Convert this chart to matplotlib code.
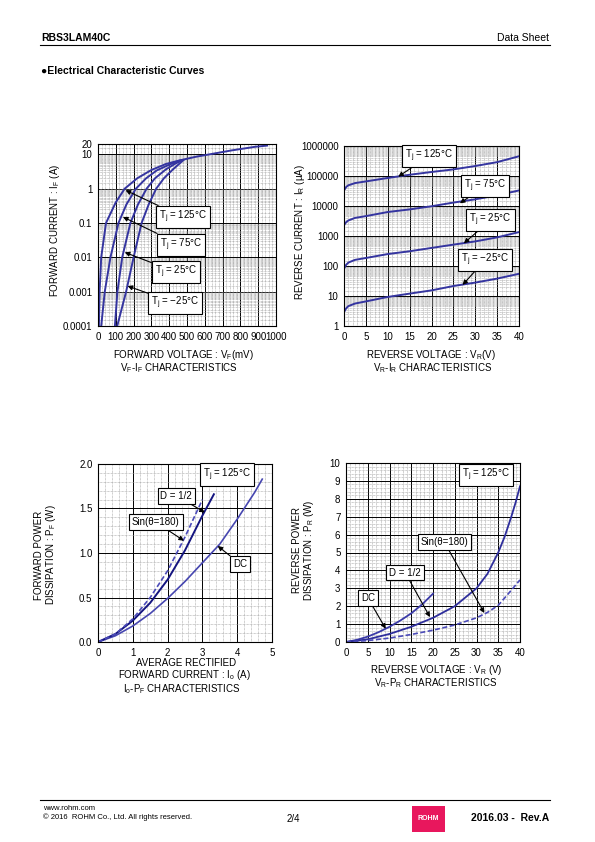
import numpy as np
import matplotlib
matplotlib.use('Agg')
from matplotlib import pyplot as plt
from matplotlib.ticker import MultipleLocator, LogLocator, NullFormatter, FixedLocator
from matplotlib.patches import Rectangle

plt.rcParams['font.family'] = ['Liberation Sans', 'DejaVu Sans']
plt.rcParams['mathtext.default'] = 'regular'

# VF-IF (mV, A)
vf_125 = [5, 9, 18, 45, 100, 150, 220, 300, 380, 450, 550, 650, 750, 880, 950]
if_125 = [1e-4, 1e-3, 1e-2, 0.1, 0.4, 1, 2.0, 3.5, 5.2, 6.5, 8.5, 10.5, 13, 16.5, 18]
vf_75 = [18, 38, 70, 115, 160, 213, 270, 330, 400, 460]
if_75 = [1e-4, 1e-3, 1e-2, 0.1, 0.35, 1, 2.0, 3.4, 5.0, 6.6]
vf_25 = [95, 109, 136, 182, 225, 273, 320, 380, 430, 470]
if_25 = [1e-4, 1e-3, 1e-2, 0.1, 0.35, 1, 2.0, 3.6, 5.2, 6.7]
vf_m25 = [108, 158, 200, 245, 285, 327, 370, 420, 460, 480]
if_m25 = [1e-4, 1e-3, 1e-2, 0.1, 0.35, 1, 2.0, 3.6, 5.5, 6.8]

# VR-IR (V, uA)
vr = [0, 0.5, 1, 2.5, 5, 10, 15, 20, 25, 30, 35, 40]
ir_125 = [33000, 43000, 49000, 58000, 66000, 86000, 110000, 136000, 166000, 215000, 290000, 455000]
ir_75 = [2300, 2900, 3300, 4000, 4600, 6300, 7700, 9800, 13000, 16700, 22700, 33000]
ir_25 = [81, 110, 130, 160, 185, 250, 310, 400, 515, 660, 900, 1350]
ir_m25 = [2.9, 3.9, 4.6, 5.6, 6.6, 9.3, 12, 15.4, 21.5, 28, 38, 55]

# Io-PF (A, W)
io_dc = [0, 0.5, 1, 1.5, 2, 2.5, 3, 3.5, 4, 4.5, 4.72]
pf_dc = [0, 0.07, 0.18, 0.32, 0.49, 0.68, 0.89, 1.1, 1.38, 1.68, 1.83]
io_half = [0, 0.5, 1, 1.5, 2, 2.5, 3, 3.33]
pf_half = [0, 0.09, 0.24, 0.44, 0.7, 1.03, 1.42, 1.66]
io_sin = [0, 0.5, 1, 1.5, 2, 2.5, 3]
pf_sin = [0, 0.09, 0.26, 0.5, 0.8, 1.18, 1.6]

# VR-PR (V, W)
vr_dc = [0, 2.5, 5, 7.5, 10, 12.5, 15, 17.5, 20]
pr_dc = [0, 0.12, 0.3, 0.55, 0.85, 1.2, 1.6, 2.1, 2.7]
vr_half = [0, 5, 10, 15, 20, 25, 30, 32.5, 35, 36.5, 38, 39, 40]
pr_half = [0, 0.15, 0.45, 0.85, 1.35, 2.0, 3.0, 3.8, 5.0, 5.9, 7.0, 7.8, 8.7]
vr_sin = [0, 5, 10, 15, 20, 25, 30, 32.5, 35, 37.5, 40]
pr_sin = [0, 0.08, 0.22, 0.42, 0.66, 0.95, 1.35, 1.65, 2.05, 2.75, 3.47]

W, H = 595, 842
fig = plt.figure(figsize=(5.95, 8.42), dpi=100)


def box(l, t, r, b):
    return [l / W, 1 - b / H, (r - l) / W, (b - t) / H]


def ftext(x, y, s, **kw):
    kw.setdefault('fontsize', 7)
    kw.setdefault('ha', 'center')
    kw.setdefault('va', 'center')
    fig.text(x / W, 1 - y / H, s, **kw)


def style(ax):
    ax.grid(True, which='minor', color='#a0a0a0', lw=0.5, ls=(0, (1, 1)))
    ax.grid(True, which='major', color='black', lw=0.7)
    ax.set_axisbelow(True)
    ax.tick_params(which='both', length=0, labelsize=7, pad=4)
    for s in ax.spines.values():
        s.set_linewidth(0.8)


def label(ax, txt, tip, pos, arrow=True):
    bb = dict(boxstyle='square,pad=0.3', fc='white', ec='black', lw=0.8)
    if arrow:
        ax.annotate(txt, xy=tip, xytext=pos, fontsize=7, ha='center', va='center', bbox=bb,
                    arrowprops=dict(arrowstyle='-|>', color='black', lw=0.8,
                                    mutation_scale=7, shrinkA=0, shrinkB=0))
    else:
        ax.text(pos[0], pos[1], txt, fontsize=7, ha='center', va='center', bbox=bb)


line_c = '#3535a0'

# ---- VF-IF
ax1 = fig.add_axes(box(98, 144, 276, 326))
for v, i in [(vf_125, if_125), (vf_75, if_75), (vf_25, if_25), (vf_m25, if_m25)]:
    ax1.plot(v, i, color=line_c, lw=1.4)
ax1.set_yscale('log')
ax1.set_xlim(0, 1000)
ax1.set_ylim(1e-4, 20)
ax1.xaxis.set_major_locator(MultipleLocator(100))
ax1.xaxis.set_minor_locator(MultipleLocator(20))
ax1.yaxis.set_major_locator(FixedLocator([1e-4, 1e-3, 1e-2, 0.1, 1, 10, 20]))
ax1.set_yticklabels(['0.0001', '0.001', '0.01', '0.1', '1', '10', '20'])
ax1.yaxis.set_minor_locator(LogLocator(base=10, subs=np.arange(1.5, 10, 0.5), numticks=30))
ax1.yaxis.set_minor_formatter(NullFormatter())
style(ax1)
label(ax1, 'T$_j$ = 125°C', (155, 0.9), (476, 0.149))
label(ax1, 'T$_j$ = 75°C', (140, 0.15), (466, 0.0229))
label(ax1, 'T$_j$ = 25°C', (150, 0.014), (438, 0.00373))
label(ax1, 'T$_j$ = \u221225°C', (166, 0.00146), (435, 0.00047))

# ---- VR-IR
ax2 = fig.add_axes(box(344, 146, 519, 326))
for i in [ir_125, ir_75, ir_25, ir_m25]:
    ax2.plot(vr, i, color=line_c, lw=1.4)
ax2.set_yscale('log')
ax2.set_xlim(0, 40)
ax2.set_ylim(1, 1e6)
ax2.xaxis.set_major_locator(MultipleLocator(5))
ax2.xaxis.set_minor_locator(MultipleLocator(1))
ax2.yaxis.set_major_locator(FixedLocator([1, 10, 100, 1000, 1e4, 1e5, 1e6]))
ax2.set_yticklabels(['1', '10', '100', '1000', '10000', '100000', '1000000'])
ax2.yaxis.set_minor_locator(LogLocator(base=10, subs=np.arange(1.5, 10, 0.5), numticks=30))
ax2.yaxis.set_minor_formatter(NullFormatter())
style(ax2)
label(ax2, 'T$_j$ = 125°C', (12.4, 95000), (19.4, 4.6e5))
label(ax2, 'T$_j$ = 75°C', (26.5, 12300), (32.2, 46000))
label(ax2, 'T$_j$ = 25°C', (27.4, 570), (33.5, 3400))
label(ax2, 'T$_j$ = \u221225°C', (27.1, 23.4), (32.2, 155))

# ---- Io-PF
ax3 = fig.add_axes(box(98, 464, 272, 642))
ax3.plot(io_dc, pf_dc, color='#4646b0', lw=1.2)
ax3.plot(io_half, pf_half, color='#141480', lw=1.4)
ax3.plot(io_sin, pf_sin, color='#4a4ab8', lw=1.2, ls=(0, (3, 1.5)))
ax3.set_xlim(0, 5)
ax3.set_ylim(0, 2)
ax3.xaxis.set_major_locator(MultipleLocator(1))
ax3.xaxis.set_minor_locator(MultipleLocator(0.2))
ax3.yaxis.set_minor_locator(MultipleLocator(0.1))
ax3.set_yticks([0, 0.5, 1, 1.5, 2])
ax3.set_yticklabels(['0.0', '0.5', '1.0', '1.5', '2.0'])
style(ax3)
label(ax3, 'T$_j$ = 125°C', None, (3.71, 1.882), arrow=False)
label(ax3, 'D = 1/2', (3.07, 1.457), (2.25, 1.643))
label(ax3, 'Sin(θ=180)', (2.47, 1.138), (1.66, 1.346))
label(ax3, 'DC', (3.44, 1.079), (4.09, 0.876))

# ---- VR-PR
ax4 = fig.add_axes(box(346, 463, 520, 642))
ax4.plot(vr_dc, pr_dc, color='#3a3aa8', lw=1.3)
ax4.plot(vr_half, pr_half, color='#2e2e9c', lw=1.3)
ax4.plot(vr_sin, pr_sin, color='#4a4ab8', lw=1.2, ls=(0, (3, 1.5)))
ax4.set_xlim(0, 40)
ax4.set_ylim(0, 10)
ax4.xaxis.set_major_locator(MultipleLocator(5))
ax4.xaxis.set_minor_locator(MultipleLocator(1))
ax4.yaxis.set_major_locator(MultipleLocator(1))
ax4.yaxis.set_minor_locator(MultipleLocator(0.2))
style(ax4)
label(ax4, 'T$_j$ = 125°C', None, (32.2, 9.32), arrow=False)
label(ax4, 'Sin(θ=180)', (31.8, 1.62), (22.6, 5.58))
label(ax4, 'D = 1/2', (19.3, 1.39), (13.6, 3.88))
label(ax4, 'DC', (9.13, 0.74), (5.06, 2.45))

# axis titles
ftext(55, 230, 'FORWARD CURRENT : I$_F$ (A)', rotation=90)
ftext(183, 355, 'FORWARD VOLTAGE : V$_F$(mV)')
ftext(179, 368.5, 'V$_F$-I$_F$ CHARACTERISTICS')
ftext(300, 232, 'REVERSE CURRENT : I$_R$ (μA)', rotation=90)
ftext(431, 355, 'REVERSE VOLTAGE : V$_R$(V)')
ftext(433, 368.5, 'V$_R$-I$_R$ CHARACTERISTICS')
ftext(39, 555, 'FORWARD POWER', rotation=90)
ftext(51, 555, 'DISSIPATION : P$_F$ (W)', rotation=90)
ftext(186, 662.5, 'AVERAGE RECTIFIED')
ftext(184, 675.5, 'FORWARD CURRENT : I$_o$ (A)')
ftext(182, 689, 'I$_o$-P$_F$ CHARACTERISTICS')
ftext(297, 550, 'REVERSE POWER', rotation=90)
ftext(309, 550, 'DISSIPATION : P$_R$ (W)', rotation=90)
ftext(436, 670, 'REVERSE VOLTAGE : V$_R$ (V)')
ftext(436, 683.5, 'V$_R$-P$_R$ CHARACTERISTICS')

# page header / footer
ftext(41, 38, 'RBS3LAM40C', ha='left', fontsize=7.5, fontweight='bold')
ftext(549, 38, 'Data Sheet', ha='right', fontsize=7.5)
fig.add_artist(plt.Line2D([40 / W, 550 / W], [1 - 45 / H, 1 - 45 / H], color='black', lw=0.8))
ftext(41, 71, '\u25cfElectrical Characteristic Curves', ha='left', fontsize=7.5, fontweight='bold')
fig.add_artist(plt.Line2D([40 / W, 550 / W], [1 - 800 / H, 1 - 800 / H], color='black', lw=0.8))
ftext(43, 808, 'www.rohm.com', ha='left', fontsize=5.5)
ftext(43, 817, '© 2016  ROHM Co., Ltd. All rights reserved.', ha='left', fontsize=5.5)
ftext(293, 819, '2/4', fontsize=7)
fig.add_artist(Rectangle((412 / W, 1 - 832 / H), 33 / W, 26 / H, transform=fig.transFigure,
                         fc='#e8175d', ec='none'))
ftext(428.5, 819, 'ROHM', fontsize=5, fontweight='bold', color='white')
ftext(549, 818, '2016.03 -  Rev.A', ha='right', fontsize=7.5, fontweight='bold')

fig.savefig('out.png', dpi=100)
